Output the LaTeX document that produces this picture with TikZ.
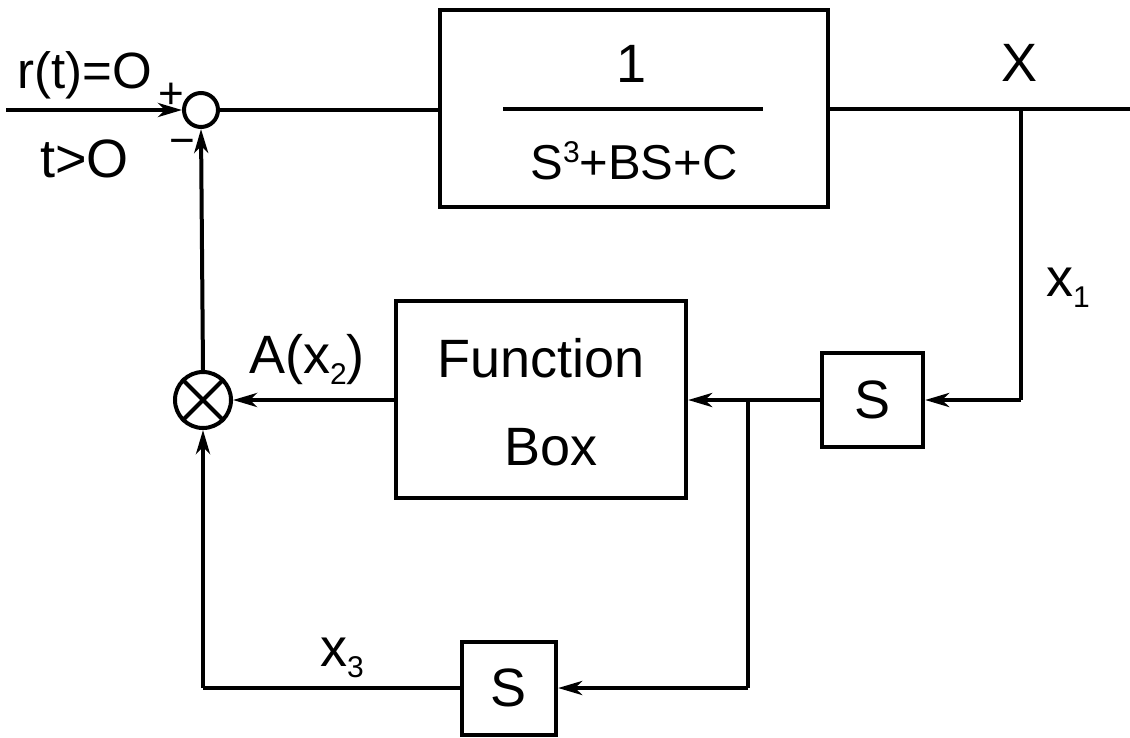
\documentclass[tikz,border=0pt]{standalone}
\usepackage{fontspec}
\setmainfont{Liberation Sans}
\usetikzlibrary{arrows.meta}
\newcommand\lowsub[1]{\raisebox{-0.22em}{\fontsize{30}{30}\selectfont #1}}
\newcommand\highsup[1]{\raisebox{0.33em}{\fontsize{30}{30}\selectfont #1}}
\tikzset{
  wire/.style={line width=4pt},
  sig/.style={wire, -{Stealth[length=24pt,width=14pt,inset=7pt]}},
  block/.style={draw, line width=4.2pt, inner sep=0pt},
  lbl/.style={inner sep=0pt, font=\fontsize{54}{54}\selectfont},
}
\begin{document}
\begin{tikzpicture}[x=1pt,y=-1pt]
\useasboundingbox (0,0) rectangle (1130,737);
% blocks
\node[block, minimum width=388pt, minimum height=197pt] (plant) at (634,108.5) {};
\node[block, minimum width=290pt, minimum height=197pt] (fbox) at (541,399.5) {};
\node[block, minimum width=101pt, minimum height=94pt] (s1) at (872.5,400) {};
\node[block, minimum width=94pt, minimum height=93pt] (s2) at (509,688.5) {};
\node[draw, circle, line width=4pt, minimum size=34pt, inner sep=0pt] (sum) at (201,110) {};
\node[draw, circle, line width=4pt, minimum size=56pt, inner sep=0pt] (mul) at (203,400) {};
\draw[wire] (mul.north west) -- (mul.south east);
\draw[wire] (mul.north east) -- (mul.south west);
% plant content
\coordinate (fl) at (503,109);
\coordinate (fr) at (763,109);
\draw[wire] (fl) -- (fr);
\node[lbl] (num) at (632,64) {1};
\node[lbl, font=\fontsize{49}{49}\selectfont, anchor=base] (den) at (634,179) {S\highsup{3}+BS+C};
% block texts
\node[lbl, anchor=base] (ft1) at (541,377) {Function};
\node[lbl, anchor=base] (ft2) at (551,465) {Box};
\node[lbl, anchor=base] (st1) at (s1.center) [yshift=-18pt] {S};
\node[lbl, anchor=base] (st2) at (s2.center) [yshift=-18pt] {S};
% labels
\node[lbl, font=\fontsize{51}{51}\selectfont, anchor=base west] (rt) at (17,88) {r(t)=O};
\node[lbl, anchor=base west] (tg) at (40,177) {t>O};
\node[lbl, font=\fontsize{44}{44}\selectfont] (plus) at (171,96) {+};
\node[lbl, font=\fontsize{44}{44}\selectfont] (minus) at (182,147) {−};
\node[lbl] (xout) at (1019,63) {X};
\node[lbl, anchor=base west] (x1) at (1046,296) {x\lowsub{1}};
\node[lbl, anchor=base west] (ax2) at (249,373) {A(x\lowsub{2})};
\node[lbl, anchor=base west] (x3) at (320,666) {x\lowsub{3}};
% coordinates
\coordinate (in) at (6,110);
\coordinate (out) at (1130,109);
\coordinate (b1) at (1021,109);
\coordinate (b1d) at (1021,400);
\coordinate (b2) at (748,400);
\coordinate (b2d) at (748,688);
\coordinate (c3) at (203,688);
% connections
\draw[sig] (in) -- (sum.west);
\draw[wire] (sum.east) -- (sum.east -| plant.west);
\draw[wire] (plant.east |- out) -- (out);
\draw[wire] (b1) -- (b1d);
\draw[sig] (b1d) -- (s1.east);
\draw[sig] (s1.west) -- (fbox.east |- s1.west);
\draw[wire] (b2) -- (b2d);
\draw[sig] (b2d) -- (s2.east |- b2d);
\draw[wire] (s2.west |- c3) -- (c3);
\draw[sig] (c3) -- (mul.south);
\draw[sig] (fbox.west |- mul.east) -- (mul.east);
\draw[sig] (mul.north) -- (sum.south);
\end{tikzpicture}
\end{document}
